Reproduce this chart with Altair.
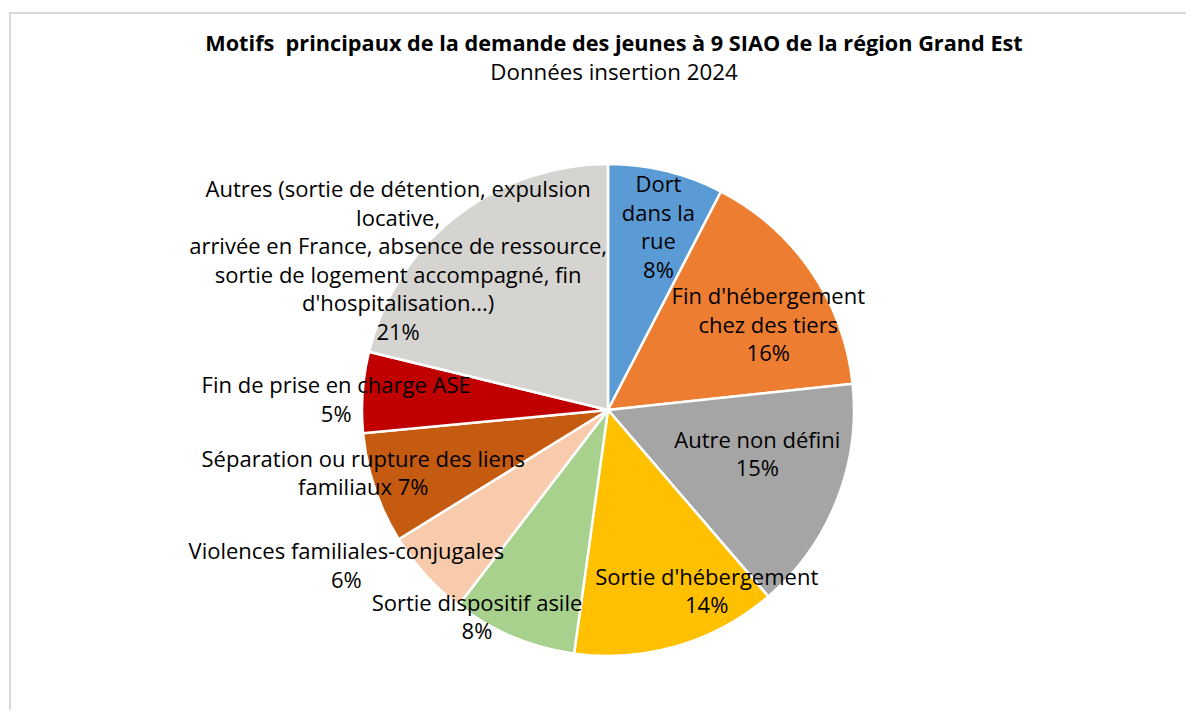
import math
import altair as alt
import pandas as pd

# ---- data ----
categories = [
    "Dort dans la rue",
    "Fin d'hébergement chez des tiers",
    "Autre non défini",
    "Sortie d'hébergement",
    "Sortie dispositif asile",
    "Violences familiales-conjugales",
    "Séparation ou rupture des liens familiaux",
    "Fin de prise en charge ASE",
    "Autres (sortie de détention, expulsion locative, arrivée en France, absence de ressource, sortie de logement accompagné, fin d'hospitalisation...)",
]
shares = [7.6, 15.7, 15.4, 13.5, 8.2, 5.8, 7.3, 5.3, 21.2]
label_lines = [
    ["Dort", "dans la", "rue"],
    ["Fin d'hébergement", "chez des tiers"],
    ["Autre non défini"],
    ["Sortie d'hébergement"],
    ["Sortie dispositif asile"],
    ["Violences familiales-conjugales"],
    ["Séparation ou rupture des liens", "familiaux"],
    ["Fin de prise en charge ASE"],
    ["Autres (sortie de détention, expulsion", "locative,", "arrivée en France, absence de ressource,",
     "sortie de logement accompagné, fin", "d'hospitalisation...)"],
]
pct_inline = [False, False, False, False, False, False, True, False, False]

# ---- styles ----
colors = ["#5B9BD5", "#ED7D31", "#A5A5A5", "#FFC000", "#A9D18E",
          "#F8CBAD", "#C55A11", "#C00000", "#D6D4D0"]
# manual label placement (as in the source chart): angular nudge (deg) and radius (px)
label_nudge = [1.8, 6.7, -4.8, -12.1, 9.5, 11.2, 3.9, -2.1, -16.6]
label_radius = [189, 181, 156, 207, 246, 305, 253, 272, 257]

CX, CY, R = 600, 300, 246
FONT = "Open Sans"
FS, LH = 22, 28.5

total = sum(shares)
rows = []
cum = 0.0
for i, (c, v) in enumerate(zip(categories, shares)):
    mid = (cum + v / 2) / total * 360.0
    cum += v
    pct = f"{round(v / total * 100):d}%"
    lines = list(label_lines[i])
    if pct_inline[i]:
        lines[-1] = lines[-1] + " " + pct
    else:
        lines.append(pct)
    # block centre -> position of first line (Vega anchors multi-line text at first line)
    a = math.radians(mid + label_nudge[i])
    bx = label_radius[i] * math.sin(a)
    by = -label_radius[i] * math.cos(a) - (len(lines) - 1) * LH / 2
    rows.append({
        "cat": c, "share": v, "order": i,
        "label": lines,
        "lab_theta": math.atan2(bx, -by) % (2 * math.pi),
        "lab_r": math.hypot(bx, by),
    })
df = pd.DataFrame(rows)

color_scale = alt.Scale(domain=categories, range=colors)

base = alt.Chart(df)

pie = base.mark_arc(radius=R, stroke="white", strokeWidth=2.5).encode(
    theta=alt.Theta("share:Q", stack=True),
    order=alt.Order("order:Q"),
    color=alt.Color("cat:N", scale=color_scale, legend=None),
    x=alt.value(CX),
    y=alt.value(CY),
)

labels = base.mark_text(
    font=FONT, fontSize=FS, lineHeight=LH, color="#000000",
    align="center", baseline="middle",
).encode(
    theta=alt.Theta("lab_theta:Q", scale=None, stack=None),
    radius=alt.Radius("lab_r:Q", scale=None),
    text="label",
    x=alt.value(CX),
    y=alt.value(CY),
)

border_left = alt.Chart(pd.DataFrame({"k": [0]})).mark_rule(
    color="#D9D9D9", strokeWidth=2
).encode(x=alt.value(2), y=alt.value(-97), y2=alt.value(620))
border_top = alt.Chart(pd.DataFrame({"k": [0]})).mark_rule(
    color="#D9D9D9", strokeWidth=2
).encode(x=alt.value(1), x2=alt.value(1200), y=alt.value(-97))

chart = alt.layer(border_left, border_top, pie, labels).properties(
    width=1178,
    height=600,
    autosize=alt.AutoSizeParams(type="none"),
    padding={"left": 0, "right": 0, "top": 102, "bottom": 0},
    title=alt.TitleParams(
        text="Motifs\u00a0 principaux de la demande des jeunes à 9 SIAO de la région Grand Est",
        subtitle="Données insertion 2024",
        font=FONT, fontSize=21.7, fontWeight="bold", color="#000000",
        subtitleFont=FONT, subtitleFontSize=22.3, subtitleColor="#000000",
        subtitlePadding=6.5, anchor="middle", offset=-72, dx=17,
    ),
).configure_view(stroke=None)

chart.save("out.html", embed_options={"renderer": "svg", "actions": False})
